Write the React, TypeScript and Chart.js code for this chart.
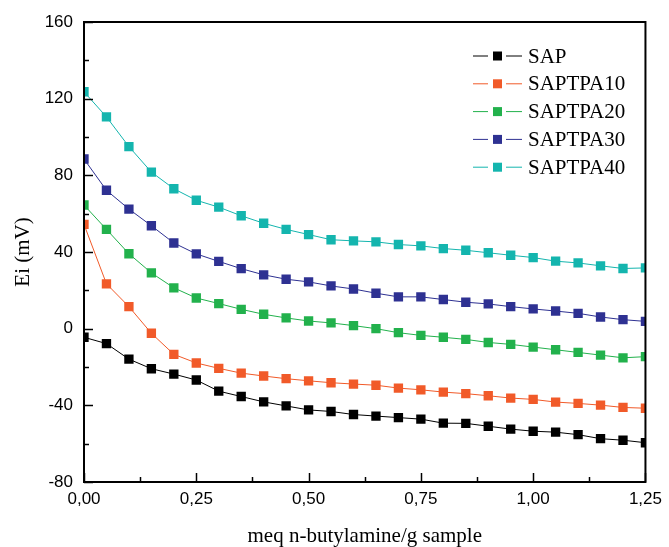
import React, { useEffect, useRef } from "react";
import { Chart, registerables } from "chart.js";

Chart.register(...registerables);

const xValues = [0, 0.05, 0.1, 0.15, 0.2, 0.25, 0.3, 0.35, 0.4, 0.45, 0.5, 0.55, 0.6, 0.65, 0.7, 0.75, 0.8, 0.85, 0.9, 0.95, 1.0, 1.05, 1.1, 1.15, 1.2, 1.25];

const SAP = [-4.5, -7.8, -15.9, -20.9, -23.7, -26.8, -32.6, -35.4, -38.2, -40.3, -42.4, -43.2, -44.8, -45.6, -46.4, -47.2, -49.3, -49.4, -50.9, -52.4, -53.5, -54.0, -55.3, -57.4, -58.2, -59.5];
const SAPTPA10 = [54.4, 23.4, 11.5, -2.4, -13.4, -17.9, -20.7, -23.2, -24.7, -26.1, -27.2, -28.2, -28.9, -29.5, -31.0, -31.9, -33.1, -33.9, -35.0, -36.2, -36.9, -38.3, -39.0, -39.9, -41.1, -41.5];
const SAPTPA20 = [64.5, 51.8, 39.1, 29.1, 21.3, 16.0, 13.1, 10.1, 7.5, 5.6, 4.0, 3.0, 1.6, 0.0, -2.1, -3.5, -4.5, -5.6, -7.2, -8.2, -9.6, -11.0, -12.4, -13.8, -15.2, -14.6];
const SAPTPA30 = [88.5, 72.2, 62.4, 53.7, 44.7, 39.0, 35.1, 31.3, 28.1, 25.8, 24.4, 22.3, 20.7, 18.5, 16.6, 16.6, 15.2, 13.8, 12.9, 11.5, 10.3, 9.2, 8.0, 6.1, 4.7, 3.8];
const SAPTPA40 = [123.6, 110.5, 95.0, 81.7, 73.0, 67.0, 63.4, 58.9, 55.0, 51.8, 49.1, 46.4, 45.8, 45.3, 43.9, 43.2, 41.8, 40.9, 39.6, 38.3, 37.1, 35.2, 34.3, 32.8, 31.4, 31.7];

const seriesNames = ["SAP", "SAPTPA10", "SAPTPA20", "SAPTPA30", "SAPTPA40"];
const seriesColors = ["#000000", "#F15A29", "#22B14C", "#2E3192", "#14B5AE"];

const xTickValues = [0, 0.25, 0.5, 0.75, 1.0, 1.25];
const xTickLabels = ["0,00", "0,25", "0,50", "0,75", "1,00", "1,25"];
const yTickValues = [-80, -40, 0, 40, 80, 120, 160];
const yTickLabels = ["-80", "-40", "0", "40", "80", "120", "160"];

const xTitle = "meq n-butylamine/g sample";
const yTitle = "Ei (mV)";

const SANS = "'Liberation Sans', Arial, sans-serif";
const SERIF = "'Liberation Serif', 'Times New Roman', serif";

const framePlugin = {
  id: "frameTicks",
  afterDraw(chart: any) {
    const { ctx, chartArea, scales } = chart;
    const { left, right, top, bottom } = chartArea;
    ctx.save();
    ctx.strokeStyle = "#000";
    ctx.lineWidth = 2;
    ctx.strokeRect(left, top, right - left, bottom - top);
    ctx.lineWidth = 1.5;
    const x = scales.x;
    const y = scales.y;
    const drawX = (v: number, len: number) => {
      const px = Math.round(x.getPixelForValue(v)) + 0.5;
      ctx.beginPath();
      ctx.moveTo(px, bottom);
      ctx.lineTo(px, bottom - len);
      ctx.stroke();
    };
    const drawY = (v: number, len: number) => {
      const py = Math.round(y.getPixelForValue(v)) + 0.5;
      ctx.beginPath();
      ctx.moveTo(left, py);
      ctx.lineTo(left + len, py);
      ctx.stroke();
    };
    xTickValues.forEach((v, i) => {
      drawX(v, 9);
      if (i < xTickValues.length - 1) drawX((v + xTickValues[i + 1]) / 2, 5);
    });
    yTickValues.forEach((v, i) => {
      drawY(v, 9);
      if (i < yTickValues.length - 1) drawY((v + yTickValues[i + 1]) / 2, 5);
    });
    ctx.restore();
  },
};

const legendPlugin = {
  id: "innerLegend",
  afterDraw(chart: any) {
    const { ctx } = chart;
    ctx.save();
    ctx.font = `21px ${SERIF}`;
    ctx.textBaseline = "middle";
    ctx.textAlign = "left";
    chart.data.datasets.forEach((ds: any, i: number) => {
      const cy = 56 + i * 27.8;
      ctx.strokeStyle = ds.borderColor;
      ctx.lineWidth = 1;
      ctx.beginPath();
      ctx.moveTo(473, cy);
      ctx.lineTo(488, cy);
      ctx.moveTo(506, cy);
      ctx.lineTo(522, cy);
      ctx.stroke();
      ctx.fillStyle = ds.borderColor;
      ctx.fillRect(493, cy - 4.5, 9, 9);
      ctx.fillStyle = "#000";
      ctx.fillText(ds.label, 528, cy + 1);
    });
    ctx.restore();
  },
};

export default function App() {
  const ref = useRef<HTMLCanvasElement>(null);
  useEffect(() => {
    if (!ref.current) return;
    const allSeries = [SAP, SAPTPA10, SAPTPA20, SAPTPA30, SAPTPA40];
    const chart = new Chart(ref.current, {
      type: "line",
      data: {
        datasets: allSeries.map((s, i) => ({
          label: seriesNames[i],
          data: s.map((v, j) => ({ x: xValues[j], y: v })),
          borderColor: seriesColors[i],
          backgroundColor: seriesColors[i],
          borderWidth: 1,
          pointStyle: "rect",
          pointRadius: 6.6,
          pointBorderWidth: 0,
          pointBackgroundColor: seriesColors[i],
          tension: 0,
          fill: false,
          clip: 0,
        })),
      },
      options: {
        responsive: false,
        animation: false,
        layout: { padding: { top: 22, right: 18, left: 0, bottom: 0 } },
        plugins: {
          legend: { display: false },
          tooltip: { enabled: false },
        },
        scales: {
          x: {
            type: "linear",
            min: 0,
            max: 1.25,
            afterBuildTicks: (s: any) => {
              s.ticks = xTickValues.map((v) => ({ value: v }));
            },
            afterFit: (s: any) => {
              s.height = 65;
            },
            grid: { display: false, drawTicks: false },
            border: { display: false },
            ticks: {
              autoSkip: false,
              maxRotation: 0,
              padding: 7,
              color: "#000",
              font: { family: SANS, size: 17 },
              callback: (_v: any, i: number) => xTickLabels[i],
            },
            title: {
              display: true,
              text: xTitle,
              color: "#000",
              font: { family: SERIF, size: 21, lineHeight: 1.0 },
              padding: { top: 0, bottom: 0 },
            },
          },
          y: {
            type: "linear",
            min: -80,
            max: 160,
            afterBuildTicks: (s: any) => {
              s.ticks = yTickValues.map((v) => ({ value: v }));
            },
            afterFit: (s: any) => {
              s.width = 84;
            },
            grid: { display: false, drawTicks: false },
            border: { display: false },
            ticks: {
              autoSkip: false,
              padding: 11,
              color: "#000",
              font: { family: SANS, size: 17 },
              callback: (_v: any, i: number) => yTickLabels[i],
            },
            title: {
              display: true,
              text: yTitle,
              color: "#000",
              font: { family: SERIF, size: 21 },
              padding: { top: 11, bottom: 0 },
            },
          },
        },
      },
      plugins: [framePlugin, legendPlugin],
    } as any);
    return () => chart.destroy();
  }, []);
  return (
    <div style={{ position: "absolute", left: 0, top: 0, width: 669, height: 547, background: "#fff" }}>
      <canvas ref={ref} width={669} height={547} style={{ display: "block" }} />
    </div>
  );
}
